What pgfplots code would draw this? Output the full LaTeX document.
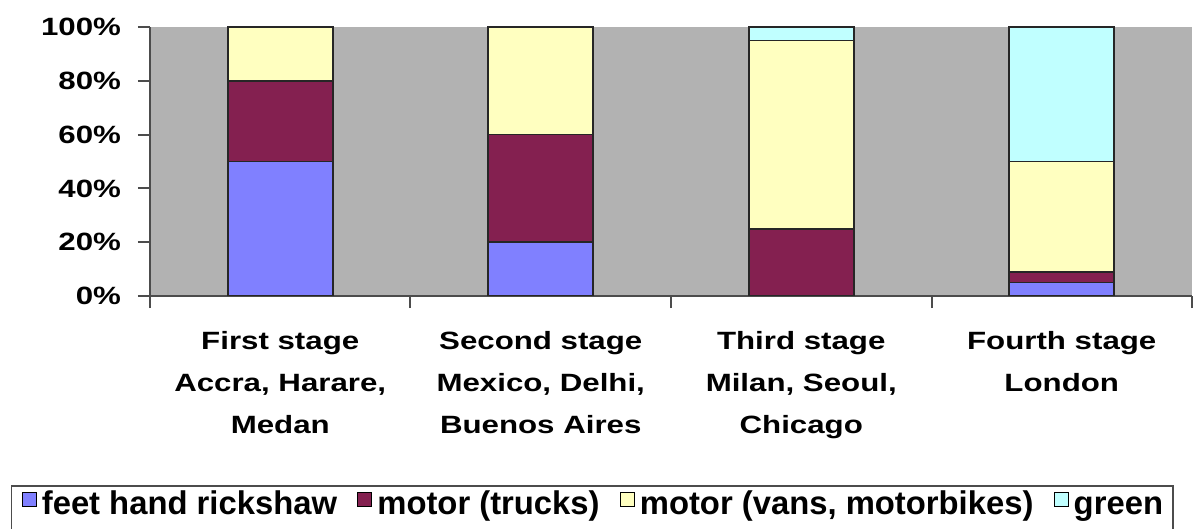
\documentclass[border=0pt]{standalone}
\usepackage{pgfplots}
\pgfplotsset{compat=1.18}
\usepackage{fontspec}
\setmainfont[FakeStretch=1.25]{Liberation Sans}
\newfontfamily\legfont{Liberation Sans}
\definecolor{cblue}{HTML}{8080FF}
\definecolor{cmaroon}{HTML}{842050}
\definecolor{cyellow}{HTML}{FFFFC0}
\definecolor{ccyan}{HTML}{C0FFFF}
\definecolor{bgray}{HTML}{B2B2B2}
\begin{document}
\begin{tikzpicture}
\begin{axis}[
  at={(0,0)}, anchor=south west,
  scale only axis, width=521pt, height=134.5pt,
  ybar stacked, bar width=52.5pt,
  xmin=-0.5, xmax=3.5, ymin=0, ymax=100,
  axis x line*=bottom, axis y line*=left,
  axis line style={-, black!70, line width=1pt},
  axis background/.style={fill=bgray},
  xtick={0,1,2,3},
  xticklabels={{First stage\\Accra, Harare,\\Medan},{Second stage\\Mexico, Delhi,\\Buenos Aires},{Third stage\\Milan, Seoul,\\Chicago},{Fourth stage\\London}},
  major x tick style={draw=none},
  minor xtick={-0.5,0.5,1.5,2.5,3.5},
  ytick={0,20,40,60,80,100},
  yticklabels={0\%,20\%,40\%,60\%,80\%,100\%},
  tick align=outside, tick style={black!70, line width=1pt},
  major tick length=6pt, minor tick length=6pt,
  x tick label style={align=center, anchor=north, font=\bfseries\fontsize{12.5}{21}\selectfont, yshift=-8pt},
  y tick label style={font=\bfseries\fontsize{12.5}{15}\selectfont, xshift=-5pt},
  legend columns=4,
  legend style={at={(0.425,-0.7026)}, anchor=north west, xshift=-291pt, draw=black!70, line width=0.8pt,
    font=\legfont\bfseries\fontsize{16.4}{18}\selectfont, inner xsep=5pt, inner ysep=3pt,
    nodes={inner xsep=0pt, text height=0.75em, text depth=0.25em},
    /tikz/every even column/.append style={column sep=10pt},
    /tikz/every odd column/.append style={column sep=2.5pt}},
  legend image code/.code={\draw[#1, draw=black, line width=0.6pt] (0pt,1.5pt) rectangle (7pt,8.5pt);},
  every axis plot/.append style={draw=black!85, line width=0.8pt},
]
\addplot[fill=cblue] coordinates {(0,50) (1,20) (2,0) (3,5)};
\addplot[fill=cmaroon] coordinates {(0,30) (1,40) (2,25) (3,4)};
\addplot[fill=cyellow] coordinates {(0,20) (1,40) (2,70) (3,41)};
\addplot[fill=ccyan] coordinates {(0,0) (1,0) (2,5) (3,50)};
\legend{feet hand rickshaw, motor (trucks), {motor (vans, motorbikes)}, green}
\end{axis}
\pgfresetboundingbox
\path (-75pt,-116.5pt) rectangle (522pt,148pt);
\end{tikzpicture}
\end{document}
